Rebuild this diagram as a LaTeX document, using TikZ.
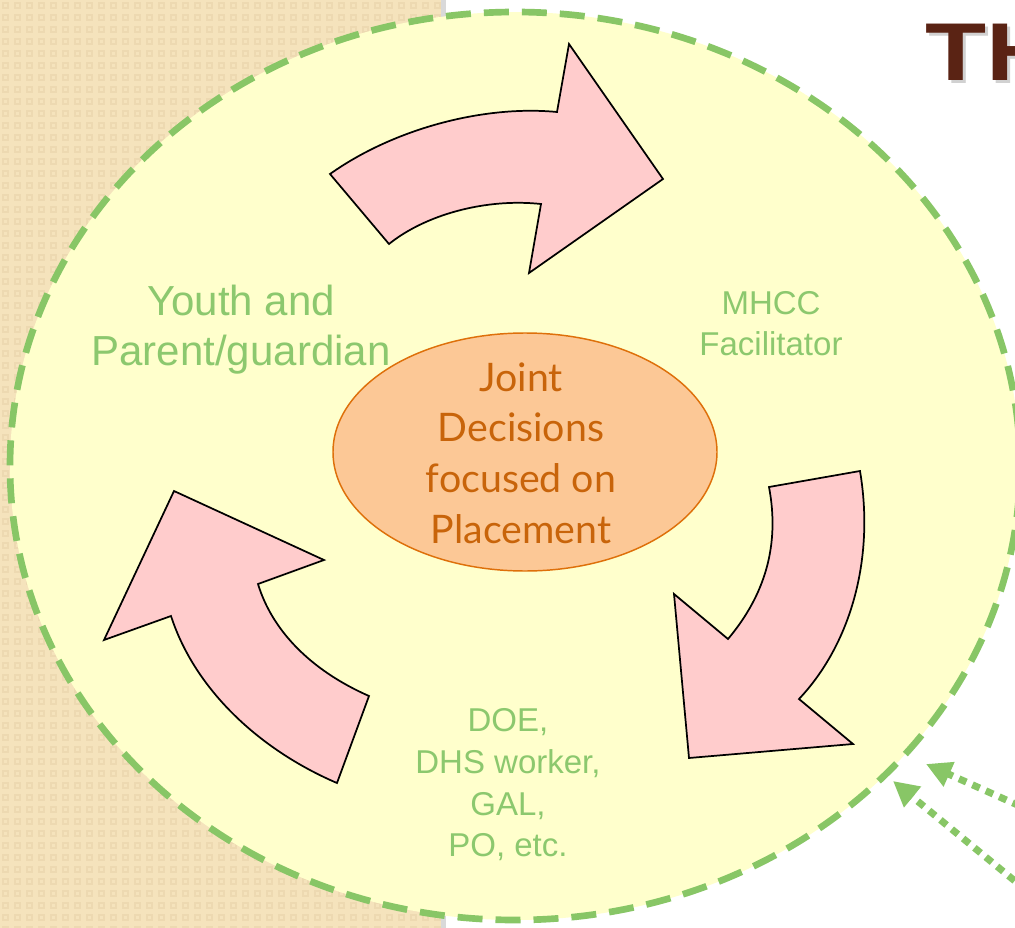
\documentclass[tikz,border=0pt]{standalone}
\usepackage{fontspec}
\usepackage{graphicx}
\setmainfont{Liberation Sans}
\newfontfamily\gill{Lato}
\usetikzlibrary{shapes.geometric,arrows.meta}
\definecolor{beige}{RGB}{245,227,188}
\definecolor{beigedark}{RGB}{237,217,177}
\definecolor{ringfill}{RGB}{255,255,204}
\definecolor{ringgreen}{RGB}{136,198,102}
\definecolor{textgreen}{RGB}{140,200,110}
\definecolor{arrowpink}{RGB}{255,204,204}
\definecolor{peach}{RGB}{252,200,150}
\definecolor{peachline}{RGB}{222,112,10}
\definecolor{orangetext}{RGB}{200,100,10}
\definecolor{titlebrown}{RGB}{90,35,20}
\tikzset{
  ringstyle/.style={ellipse, draw=ringgreen, fill=ringfill, line width=5pt,
    dash pattern=on 18.75pt off 9.75pt, minimum width=757.5pt, minimum height=681pt, inner sep=0pt},
  blockarrow/.style={draw=black, fill=arrowpink, line width=1.3pt, line join=miter},
  jointell/.style={ellipse, draw=peachline, fill=peach, line width=1.1pt,
    minimum width=288pt, minimum height=178.5pt, inner sep=0pt},
  jointtxt/.style={align=center, text=orangetext, inner sep=0pt, anchor=base,
    font=\gill\fontsize{29.5}{38}\selectfont},
  greentext/.style={align=center, text=textgreen, inner sep=0pt, anchor=base},
  dotarrow/.style={draw=ringgreen, line width=5.25pt, dash pattern=on 6pt off 5pt,
    -{Triangle[length=19pt,width=19pt]}},
  titlestyle/.style={anchor=base west, inner sep=0pt, font=\bfseries\fontsize{61.5}{70}\selectfont},
}
\begin{document}
\begin{tikzpicture}[x=0.75pt,y=-0.75pt]
\useasboundingbox (0,0) rectangle (1015,928);
\fill[white] (0,0) rectangle (1015,928);
% textured side panel
\fill[beige] (0,0) rectangle (443,928);
\foreach \i in {0,...,36}{
  \foreach \j in {0,...,77}{
    \draw[beigedark, line width=0.8pt] (\i*12+3,\j*12+3) rectangle ++(5,5);
  }
}
\fill[black!15] (441,0) rectangle (446,928);
% big dashed ring
\node[ringstyle] (ring) at (515,466) {};
% curved block arrows
\draw[blockarrow] (330,174) .. controls (395,128) and (485,105) .. (557,112)
  -- (569,44) -- (663,179) -- (529,273) -- (541,204)
  .. controls (485,198) and (425,215) .. (389,244) -- cycle;
\draw[blockarrow] (860,471) .. controls (875,560) and (850,645) .. (799,699)
  -- (853,744) -- (689,758) -- (674,594) -- (728,639)
  .. controls (765,595) and (780,545) .. (769,487) -- cycle;
\draw[blockarrow] (337,783) .. controls (260,750) and (195,690) .. (171,616)
  -- (104,640) -- (174,491) -- (324,560) -- (258,584)
  .. controls (272,630) and (310,670) .. (369,696) -- cycle;
% centre
\node[jointell] (joint) at (525,452) {};
\node[jointtxt] (jointtext) at (521,543) {Joint\\Decisions\\focused on\\Placement};
% labels
\node[greentext, font=\fontsize{31.5}{37.5}\selectfont] (youth) at (241,365) {Youth and\\Parent/guardian};
\node[greentext, font=\fontsize{24.75}{30.75}\selectfont] (mhcc) at (771,355) {MHCC\\Facilitator};
\node[greentext, font=\fontsize{24.75}{31.25}\selectfont] (doe) at (508,856.7) {DOE,\\DHS worker,\\GAL,\\PO, etc.};
% dotted arrows
\coordinate (d1s) at (1060,824);
\coordinate (d1e) at (926,764);
\coordinate (d2s) at (1060,918);
\coordinate (d2e) at (893,781);
\draw[dotarrow] (d1s) -- (d1e);
\draw[dotarrow] (d2s) -- (d2e);
% title
\node[titlestyle, text=black!18] (titleshadow) at (928,83) {\scalebox{1.22}[1]{TH}};
\node[titlestyle, text=titlebrown] (title) at (925,80) {\scalebox{1.22}[1]{TH}};
\end{tikzpicture}
\end{document}
